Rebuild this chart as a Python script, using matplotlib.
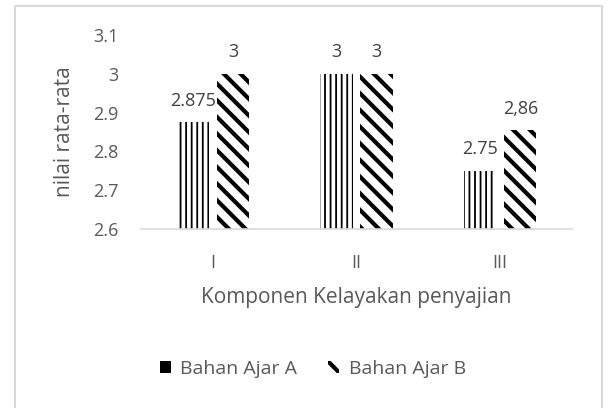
import matplotlib
matplotlib.use("Agg")
import matplotlib.pyplot as plt
from matplotlib.patches import Rectangle, Patch
import numpy as np

categories = ["I", "II", "III"]
series_a = [2.875, 3.0, 2.75]
series_b = [3.0, 3.0, 2.855]
labels_a = ["2.875", "3", "2.75"]
labels_b = ["3", "3", "2,86"]
series_names = ["Bahan Ajar A", "Bahan Ajar B"]
y_ticks = [2.6, 2.7, 2.8, 2.9, 3.0, 3.1]
y_tick_labels = ["2.6", "2.7", "2.8", "2.9", "3", "3.1"]

plt.rcParams['font.family'] = ['Open Sans', 'DejaVu Sans']
text_color = "#595959"

fig = plt.figure(figsize=(6.1, 4.08), dpi=100)
# figure border
fig.patches.append(Rectangle((15/610, -0.02), 587/610, 1 - 6/408 + 0.02,
                             transform=fig.transFigure, fill=False,
                             edgecolor="#d9d9d9", linewidth=1.5))

ax = fig.add_axes([141/610, 1 - 229/408, 431/610, 194/408])
x = np.arange(len(categories))
w = 0.225
off = 0.14

plt.rcParams['hatch.linewidth'] = 1.3
bars_a = ax.bar(x - off, [v - 2.6 for v in series_a], w, bottom=2.6,
                color="white", edgecolor="black", linewidth=0, hatch="|||")
plt.rcParams['hatch.linewidth'] = 3.0
bars_b = ax.bar(x + off, [v - 2.6 for v in series_b], w, bottom=2.6,
                color="white", edgecolor="black", linewidth=0, hatch="\\\\")

for xi, v, lab in zip(x - off, series_a, labels_a):
    ax.annotate(lab, (xi, v), xytext=(0, 9), textcoords="offset points",
                ha="center", va="bottom", fontsize=13, color="#404040")
for xi, v, lab in zip(x + off, series_b, labels_b):
    ax.annotate(lab, (xi, v), xytext=(0, 9), textcoords="offset points",
                ha="center", va="bottom", fontsize=13, color="#404040")

ax.set_xlim(-0.5, 2.5)
ax.set_ylim(2.6, 3.1)
ax.set_yticks(y_ticks)
ax.set_yticklabels(y_tick_labels)
ax.set_xticks(x)
ax.set_xticklabels(categories)
ax.tick_params(axis="y", length=0, pad=16, labelsize=13, labelcolor=text_color)
ax.tick_params(axis="x", length=0, pad=18, labelsize=13, labelcolor=text_color)
for s in ["top", "right", "left"]:
    ax.spines[s].set_visible(False)
ax.spines["bottom"].set_color("#d9d9d9")
ax.spines["bottom"].set_linewidth(1.2)

ax.set_ylabel("nilai rata-rata", fontsize=15, color=text_color, labelpad=13)
ax.set_xlabel("Komponen Kelayakan penyajian", fontsize=15, color=text_color, labelpad=11)

plt.rcParams['hatch.linewidth'] = 1.3
h_a = Patch(facecolor="white", edgecolor="black", linewidth=0, hatch="||||")
plt.rcParams['hatch.linewidth'] = 3.0
h_b = Patch(facecolor="white", edgecolor="black", linewidth=0, hatch="\\\\")
fig.legend([h_a, h_b], series_names, loc="center", bbox_to_anchor=(313/610, 1 - 369/408),
           ncol=2, frameon=False, fontsize=14, labelcolor=text_color,
           handlelength=0.55, handleheight=0.55, handletextpad=0.5, columnspacing=1.6)

fig.savefig("out.png", dpi=100)
